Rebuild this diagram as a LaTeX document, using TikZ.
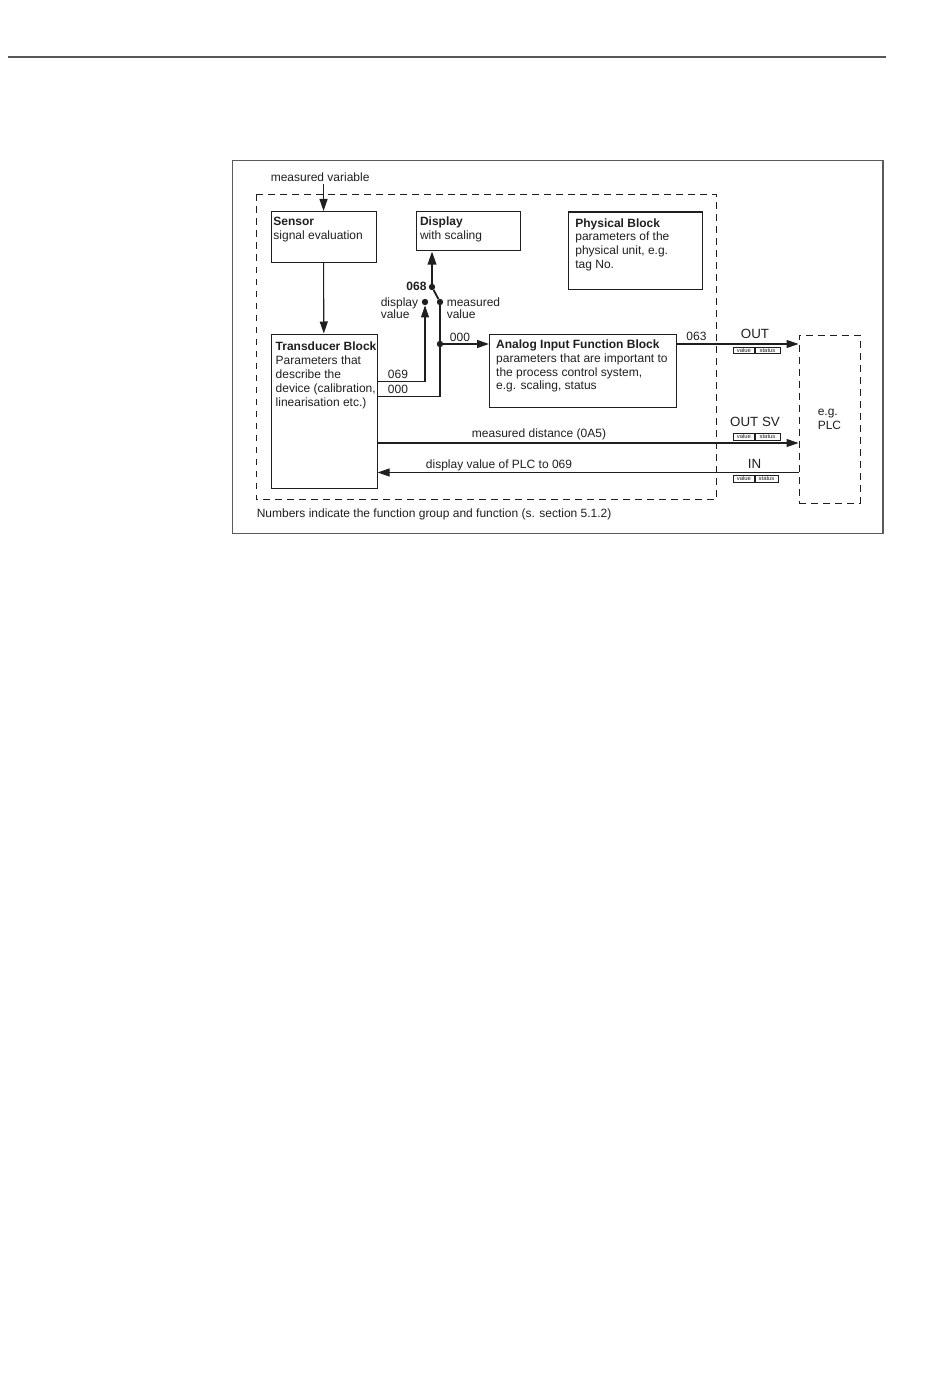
\documentclass[tikz,border=0pt]{standalone}
\usepackage{fontspec}
\setmainfont{Liberation Sans}
\usetikzlibrary{arrows.meta,positioning,calc}
\definecolor{ink}{HTML}{1F1F1F}
\definecolor{framegray}{HTML}{5A5A5A}

\tikzset{
  blockbox/.style={draw=ink, line width=0.8pt, inner sep=0pt, anchor=north west},
  blocktext/.style={anchor=north west, align=left, inner sep=0pt,
    font=\fontsize{9}{10.4}\selectfont, text=ink},
  groupbox/.style={draw=ink, line width=0.7pt, dash pattern=on 5pt off 4pt},
  sigline/.style={draw=ink, line width=0.8pt},
  sigarrow/.style={sigline, -{Triangle[length=9pt,width=6pt]}},
  switchdot/.style={circle, fill=ink, inner sep=0pt, minimum size=4.8pt},
  lbl/.style={font=\fontsize{9}{10.4}\selectfont, text=ink, inner sep=0pt},
  tagbox/.style={draw=ink, line width=0.5pt, inner sep=0pt, anchor=north west,
    minimum height=5.2pt, font=\fontsize{4.4}{5}\selectfont, text=ink},
}

\begin{document}
\begin{tikzpicture}[x=0.75pt, y=-0.75pt]
  \useasboundingbox (0,0) rectangle (950,1373);
  \draw[line width=1.5pt, ink!75] (8,57) -- (886,57);
  \draw[framegray, line width=0.8pt] (232.5,160.5) rectangle (883,533.5);
  \draw[groupbox] (256,194.5) rectangle (716.5,499.5);

  % blocks inside the device
  \node[blockbox, minimum width=78.75pt, minimum height=38.25pt,
    label={[blocktext, xshift=2pt, yshift=-4.3pt]north west:{\textbf{Sensor}\\signal evaluation}}]
    (sensor) at (270.5,211) {};
  \node[blockbox, minimum width=78pt, minimum height=29.5pt,
    label={[blocktext, xshift=3.2pt, yshift=-4.3pt]north west:{\textbf{Display}\\with scaling}}]
    (disp) at (415.5,211) {};
  \node[blockbox, minimum width=100.5pt, minimum height=58pt,
    label={[blocktext, xshift=5.7pt, yshift=-5pt]north west:{\textbf{Physical Block}\\parameters of the\\physical unit, e.g.\\tag No.}}]
    (phys) at (567.5,211.5) {};
  \node[blockbox, minimum width=79.5pt, minimum height=115.5pt,
    label={[blocktext, xshift=3.7pt, yshift=-6.2pt]north west:{\textbf{Transducer Block}\\Parameters that\\describe the\\device (calibration,\\linearisation etc.)}}]
    (trans) at (270.5,333.5) {};
  \node[blockbox, minimum width=140.25pt, minimum height=54.5pt,
    label={[blocktext, xshift=5.2pt, yshift=-4pt]north west:{\textbf{Analog Input Function Block}\\parameters that are important to\\the process control system,\\e.g. scaling, status}}]
    (analog) at (489,334) {};

  \node[blockbox, groupbox, minimum width=45.75pt, minimum height=126pt, align=left,
    font=\fontsize{9}{10.4}\selectfont, text=ink]
    (plc) at (798.5,334.5) {e.g.\\PLC};

  % measured variable into the sensor
  \node[lbl, anchor=west] (mvar) at (270.5,177.5) {measured variable};
  \draw[sigarrow] (sensor.north |- 0,184) -- (sensor.north);
  \draw[sigarrow] (sensor) -- (trans);

  % display switch
  \node[switchdot] (sw068) at (432,287) {};
  \node[switchdot] (dispdot) at (425,302) {};
  \node[switchdot] (measdot) at (440,302) {};
  \node[switchdot] (junc) at (440,344) {};
  \node[lbl, font=\fontsize{9}{10.4}\selectfont\bfseries] (l068) at (416.5,286) {068};
  \node[lbl, anchor=west, align=left, font=\fontsize{9}{8.8}\selectfont] (ldisp) at (380.5,308) {display\\value};
  \node[lbl, anchor=west, align=left, font=\fontsize{9}{8.8}\selectfont] (lmeas) at (446.5,308) {measured\\value};
  \draw[sigline, line width=1.5pt, -{Triangle[length=10pt,width=6.5pt]}] (sw068) -- (sw068 |- disp.south);
  \draw[sigline, line width=1.4pt] (sw068) -- (measdot);
  \draw[sigarrow] (trans.east |- 0,381.5) -| (dispdot.south);
  \draw[sigline, line width=1.1pt] (trans.east |- 0,396.5) -| (measdot);
  \draw[sigarrow, line width=1.1pt] (junc) -- (junc -| analog.west);
  \node[lbl] (l069) at (398,374) {069};
  \node[lbl] (l000a) at (398,389.5) {000};
  \node[lbl] (l000b) at (460,337) {000};

  % outputs to the PLC
  \draw[sigarrow] (analog.east |- junc) -- (plc.west |- junc);
  \node[lbl] (l063) at (696.5,336.5) {063};
  \node[lbl, font=\fontsize{10}{12}\selectfont] (lout) at (755,334) {OUT};
  \node[tagbox, minimum width=15.75pt] (outval) at (733,346.5) {value};
  \node[tagbox, minimum width=18.75pt] (outstat) at (outval.north east) {status};

  \draw[sigarrow] (trans.east |- 0,443) -- (plc.west |- 0,443);
  \node[lbl] (ldist) at (539,434) {measured distance (0A5)};
  \node[lbl, font=\fontsize{10}{12}\selectfont] (loutsv) at (755,421.5) {OUT SV};
  \node[tagbox, minimum width=15.75pt] (svval) at (733,432.7) {value};
  \node[tagbox, minimum width=18.75pt] (svstat) at (svval.north east) {status};

  \draw[sigarrow] (plc.west |- 0,472.5) -- (trans.east |- 0,472.5);
  \node[lbl] (lplc) at (499,465) {display value of PLC to 069};
  \node[lbl, font=\fontsize{10}{12}\selectfont] (lin) at (754.5,463.5) {IN};
  \node[tagbox, minimum width=15.75pt] (inval) at (733,475) {value};
  \node[tagbox, minimum width=17.25pt] (instat) at (inval.north east) {status};

  \node[lbl, anchor=west] (note) at (256.5,514.5) {Numbers indicate the function group and function (s. section 5.1.2)};
\end{tikzpicture}
\end{document}
